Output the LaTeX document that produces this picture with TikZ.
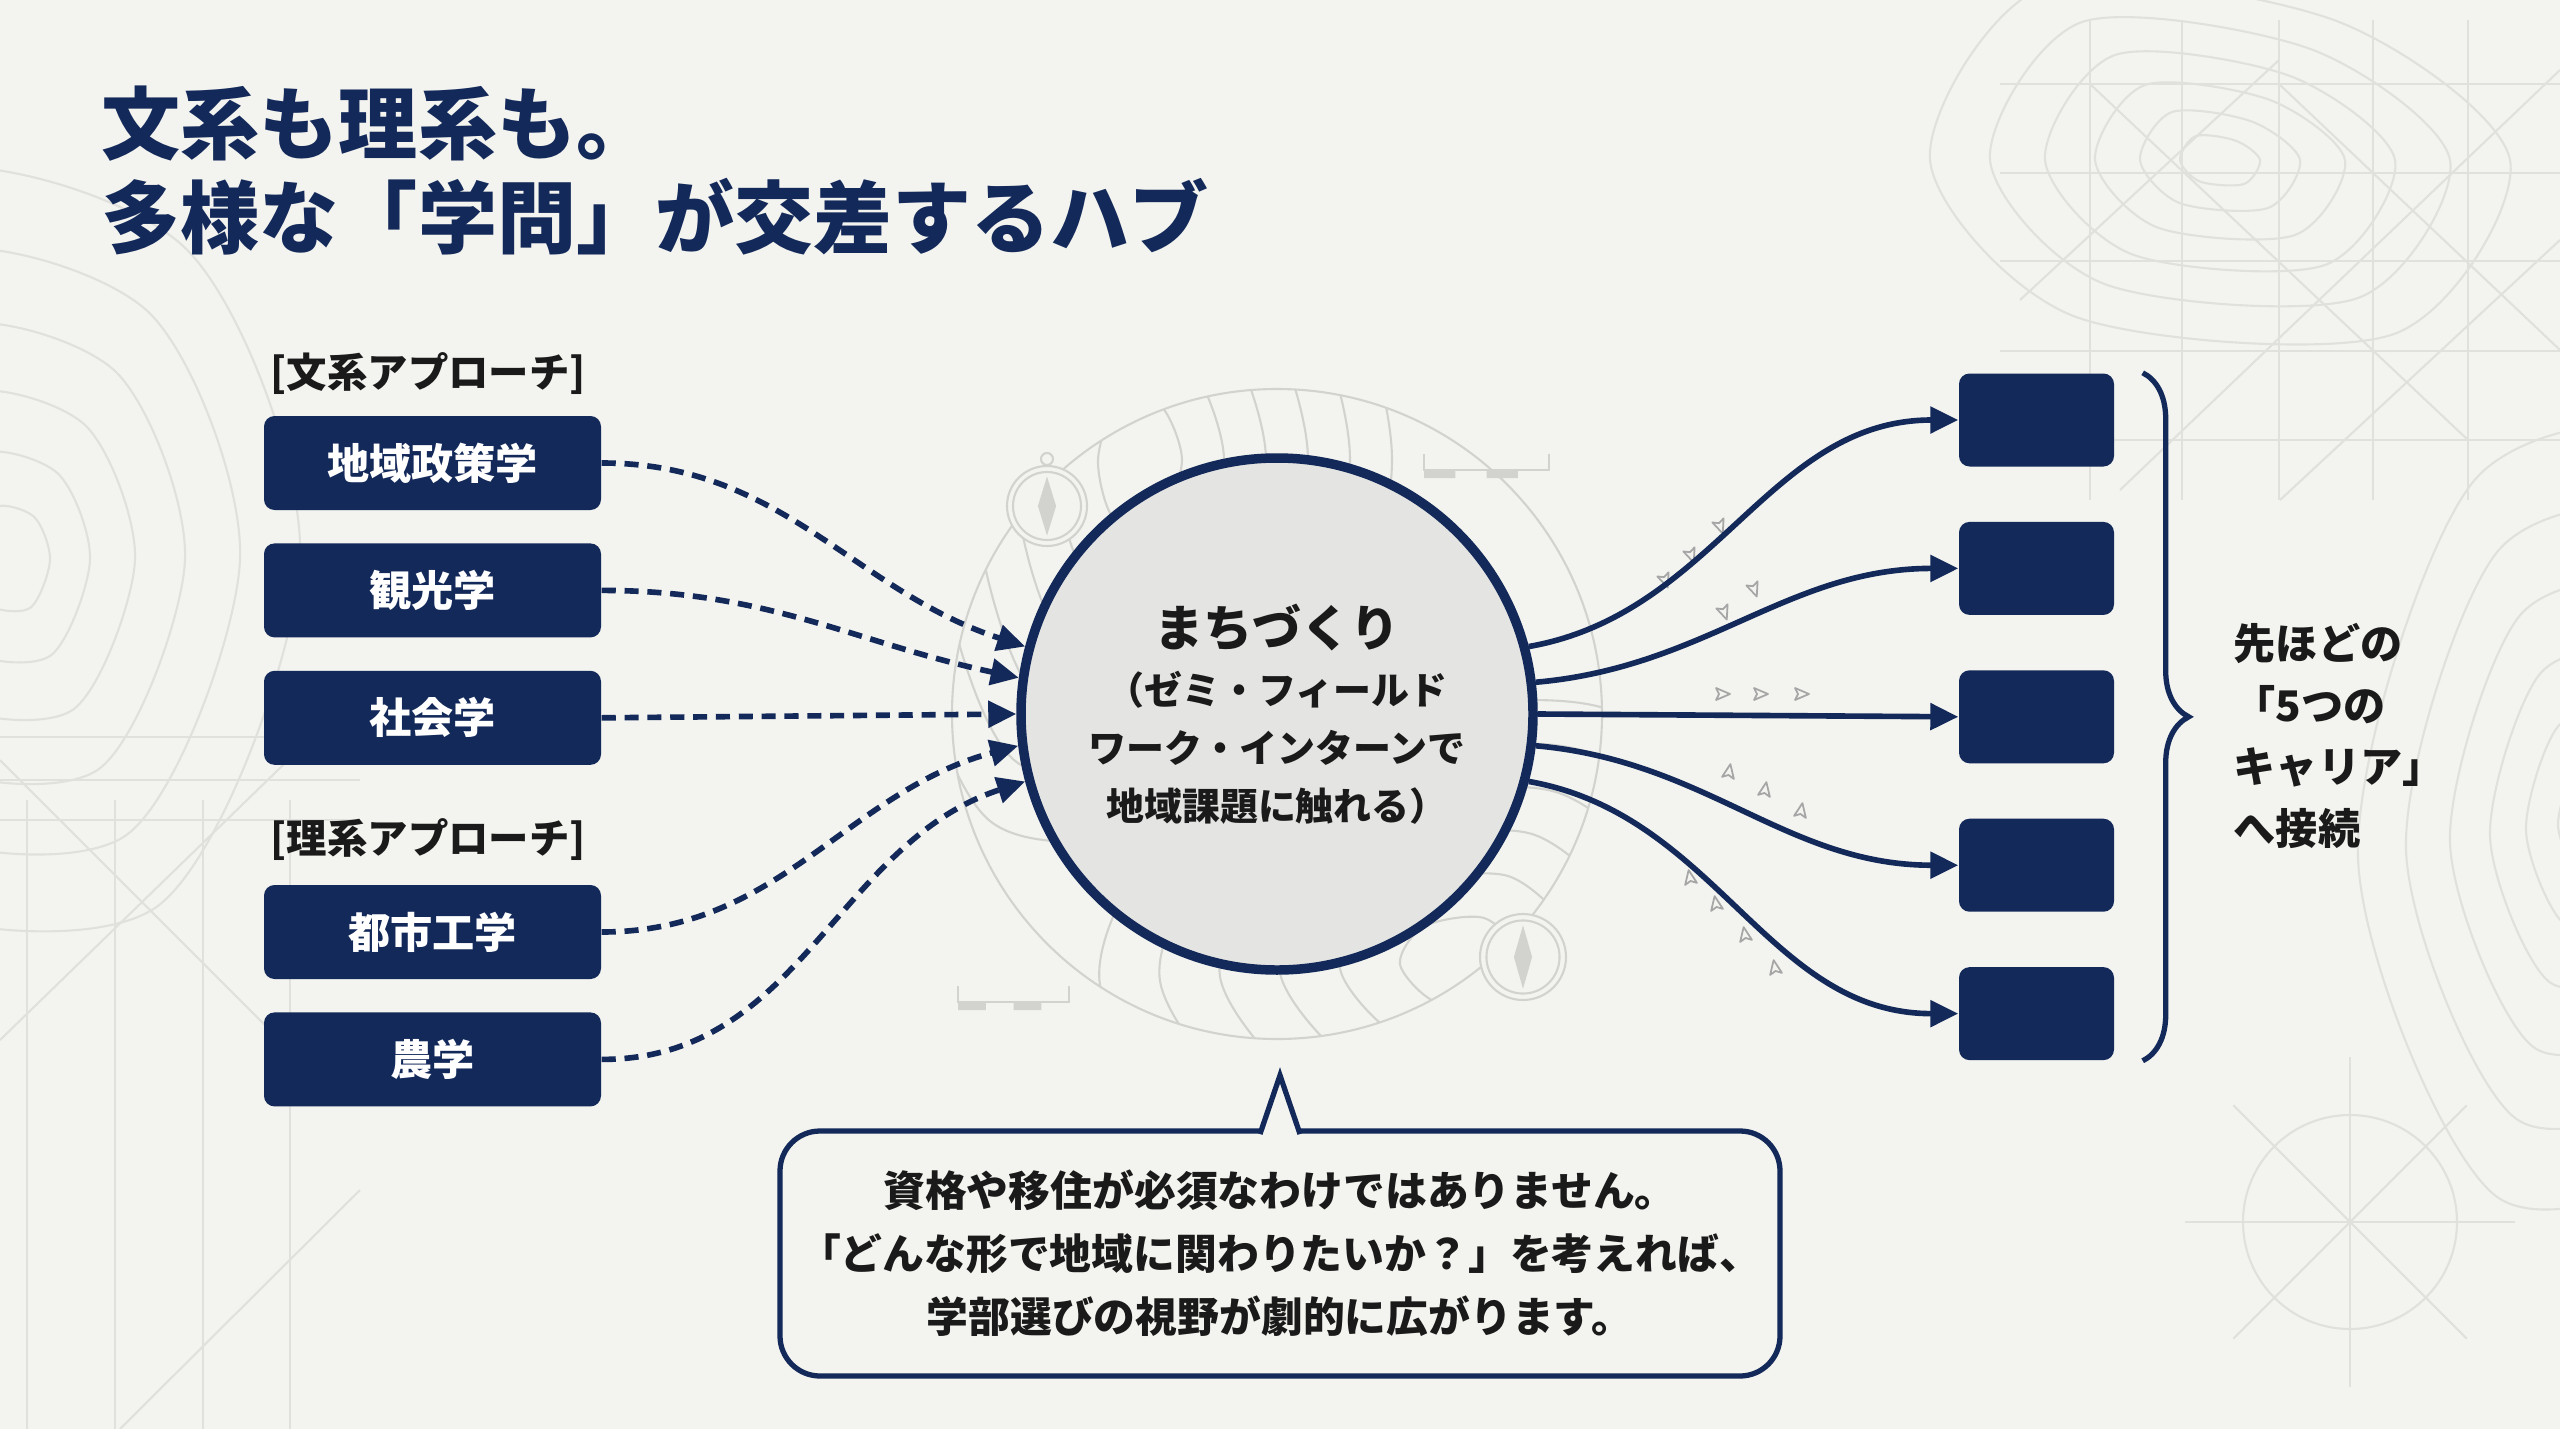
\documentclass[tikz,border=0pt]{standalone}
\usepackage{fontspec}
\setmainfont{Noto Sans CJK JP}
\usetikzlibrary{arrows.meta,positioning,decorations.pathreplacing,calc}
\definecolor{navy}{HTML}{13295A}
\definecolor{paper}{HTML}{F3F3EF}
\definecolor{hubfill}{HTML}{E4E4E2}
\definecolor{ink}{HTML}{1A1A1A}
\definecolor{faint}{HTML}{D2D2CE}
\definecolor{ghost}{HTML}{E0E0DC}

\begin{document}
\begin{tikzpicture}[
  >={Triangle[length=2.8mm,width=2.6mm]},
  every node/.style={font=\bfseries,text=ink},
  field/.style={fill=navy,rounded corners=3pt,minimum width=33.7mm,minimum height=9.4mm,text=white,font=\bfseries\fontsize{12}{14}\selectfont},
  career/.style={fill=navy,rounded corners=3pt,minimum width=15.5mm,minimum height=9.3mm},
  group/.style={anchor=west,inner sep=0pt,font=\bfseries\fontsize{11.5}{13}\selectfont},
  hub/.style={circle,draw=navy,line width=2.7pt,fill=hubfill,minimum size=51.2mm,align=center,font=\bfseries\fontsize{10.8}{16.5}\selectfont},
  feed/.style={->,navy,line width=1.6pt,dash pattern=on 4pt off 2.5pt},
  link/.style={->,navy,line width=1.6pt},
  note/.style={draw=navy,line width=1.5pt,fill=paper,rounded corners=4mm,minimum width=100mm,minimum height=24.5mm,align=center,font=\bfseries\fontsize{11.9}{17.9}\selectfont},
  faintline/.style={faint,line width=0.6pt},
  contour/.style={ghost,line width=0.6pt}]
\fill[paper] (0,0) rectangle (25.6,-14.29);
\useasboundingbox (0,0) rectangle (25.6,-14.29);
% background survey grid and contours
\foreach \gy in {-0.84,-1.73,-2.61,-3.51,-4.40} \draw[contour] (20.0,\gy) -- (25.6,\gy);
\foreach \gx in {20.9,21.82,22.79,23.73,24.68} \draw[contour] (\gx,-0.2) -- (\gx,-5.0);
\draw[contour] (20.9,-0.84) -- (24.68,-4.40) (22.79,-0.84) -- (25.6,-3.5) (20.2,-3.0) -- (22.79,-0.6) (21.2,-4.9) -- (25.6,-0.7) (22.8,-5.0) -- (25.6,-2.4);
\foreach \gx in {0.27,1.15,2.03,2.90} \draw[contour] (\gx,-8.0) -- (\gx,-14.29);
\foreach \gy in {-7.37,-7.80,-8.20} \draw[contour] (0,\gy) -- (3.6,\gy);
\draw[contour] (0,-10.4) -- (3.5,-7.0) (0,-7.6) -- (3.0,-10.6) (1.2,-14.29) -- (3.6,-11.9);
\draw[contour] (23.5,-12.22) circle (1.07);
\foreach \a in {0,45,...,315} \draw[contour] (23.5,-12.22) -- ++(\a:1.65);
\foreach \s in {0.4,0.8,1.25,1.75,2.3,2.9} {
  \draw[contour,shift={(0.1,-5.6)},xscale=\s,yscale=1.2*\s] plot[smooth cycle] coordinates {(1,0) (0.6,0.9) (-0.4,1.1) (-1,0.2) (-0.6,-0.9) (0.5,-1)};
  \draw[contour,shift={(25.9,-8.2)},xscale=0.8*\s,yscale=1.3*\s] plot[smooth cycle] coordinates {(1,0.2) (0.5,1) (-0.5,0.9) (-1,-0.1) (-0.4,-1) (0.6,-0.8)};
  \draw[contour,shift={(22.2,-1.6)},xscale=\s,yscale=0.6*\s] plot[smooth cycle] coordinates {(1,0) (0.4,0.8) (-0.6,1) (-1,0) (-0.5,-0.9) (0.6,-1)};
}
% map ornaments behind the hub
\coordinate (hubc) at (12.77,-7.14);
\begin{scope}
  \clip (hubc) circle (3.25);
  \foreach \s in {0.6,1.2,1.8,2.4,3.0,3.6} {
    \draw[faintline,shift={(11.4,-4.6)},xscale=0.7*\s,yscale=\s] plot[smooth cycle] coordinates {(1,0) (0.5,0.9) (-0.5,1) (-1,0) (-0.6,-1) (0.5,-0.9)};
    \draw[faintline,shift={(14.6,-9.6)},xscale=\s,yscale=0.7*\s] plot[smooth cycle] coordinates {(1,0.1) (0.4,1) (-0.6,0.8) (-1,-0.1) (-0.4,-1) (0.6,-0.9)};
  }
\end{scope}
\draw[faintline] (hubc) circle (3.25);
\foreach \cx/\cy/\r in {10.47/-5.06/0.40, 15.23/-9.57/0.43} {
  \draw[faintline,fill=paper] (\cx,\cy) circle (\r);
  \draw[faintline] (\cx,\cy) circle (0.85*\r);
  \draw[faintline,fill=faint] (\cx,\cy+0.65*\r) -- (\cx+0.08,\cy) -- (\cx,\cy-0.65*\r) -- (\cx-0.08,\cy) -- cycle;
}
\draw[faintline] (10.47,-4.59) circle (0.06);
\foreach \sx/\sy/\w in {14.24/-4.64/1.25, 9.58/-9.96/1.11} {
  \draw[faintline] (\sx,\sy+0.1) -- (\sx,\sy-0.06) -- (\sx+\w,\sy-0.06) -- (\sx+\w,\sy+0.1);
  \fill[faint] (\sx,\sy-0.06) rectangle (\sx+0.25*\w,\sy-0.14) (\sx+0.5*\w,\sy-0.06) rectangle (\sx+0.75*\w,\sy-0.14);
}
\foreach \mx/\my/\ma in {16.65/-5.80/-70, 16.91/-5.55/-70, 17.20/-5.26/-70, 17.24/-6.12/-70, 17.54/-5.89/-70,
  17.22/-6.94/0, 17.60/-6.94/0, 18.01/-6.94/0, 17.29/-7.72/80, 17.65/-7.90/80, 18.01/-8.11/80,
  16.90/-8.78/100, 17.16/-9.04/100, 17.45/-9.35/100, 17.75/-9.68/100}
  \draw[gray!70,line width=0.5pt,line join=round,rotate around={\ma:(\mx,\my)}] (\mx+0.08,\my) -- (\mx-0.06,\my+0.06) -- (\mx-0.03,\my) -- (\mx-0.06,\my-0.06) -- cycle;

\node[anchor=west,align=left,inner sep=0pt,text=navy,font=\bfseries\fontsize{22.5}{26.5}\selectfont] (title) at (1.01,-1.705) {文系も理系も。\\多様な「学問」が交差するハブ};

\node[group] (humlabel) at (2.70,-3.74) {[文系アプローチ]};
\node[field] (chiiki) at (4.325,-4.63) {地域政策学};
\node[field,below=3.2mm of chiiki] (kanko) {観光学};
\node[field,below=3.2mm of kanko] (shakai) {社会学};
\node[group] (scilabel) at (2.70,-8.40) {[理系アプローチ]};
\node[field] (toshi) at (4.325,-9.32) {都市工学};
\node[field,below=3.2mm of toshi] (nogaku) {農学};

\node[hub] (hub) at (hubc) {{\fontsize{14}{16.5}\selectfont まちづくり}\\（ゼミ・フィールド\\ワーク・インターンで\\地域課題に触れる）};

\node[career] (c1) at (20.365,-4.20) {};
\node[career,below=5.4mm of c1] (c2) {};
\node[career,below=5.4mm of c2] (c3) {};
\node[career,below=5.4mm of c3] (c4) {};
\node[career,below=5.4mm of c4] (c5) {};

\draw[feed] (chiiki.east) to[out=0,in=162] (hub.165);
\draw[feed] (kanko.east) to[out=0,in=168] (hub.172.5);
\draw[feed] (shakai.east) -- (hub.west);
\draw[feed] (toshi.east) to[out=0,in=195] (hub.187.5);
\draw[feed] (nogaku.east) to[out=0,in=198] (hub.195);

\draw[link] (hub.15) to[out=10,in=180] (c1.west);
\draw[link] (hub.7.5) to[out=5,in=180] (c2.west);
\draw[link] (hub.east) -- (c3.west);
\draw[link] (hub.-7.5) to[out=-5,in=180] (c4.west);
\draw[link] (hub.-15) to[out=-10,in=180] (c5.west);

\draw[navy,line width=1.5pt,decorate,decoration={brace,amplitude=4.6mm}] ($(c1.north east)+(0.28,0)$) -- ($(c5.south east)+(0.28,0)$);
\node[anchor=west,align=left,inner sep=0pt,font=\bfseries\fontsize{12}{17.6}\selectfont] (fivecareer) at (22.33,-7.36) {先ほどの\\「5つの\\キャリア」\\へ接続};

\node[note] (note) at (12.80,-12.535) {資格や移住が必須なわけではありません。\\「どんな形で地域に関わりたいか？」を考えれば、\\学部選びの視野が劇的に広がります。};
\coordinate (tip) at ([yshift=5.3mm]note.north);
\draw[navy,line width=1.5pt,fill=paper] ([xshift=-2mm,yshift=-1.6pt]note.north) -- (tip) -- ([xshift=2mm,yshift=-1.6pt]note.north);
\end{tikzpicture}
\end{document}
